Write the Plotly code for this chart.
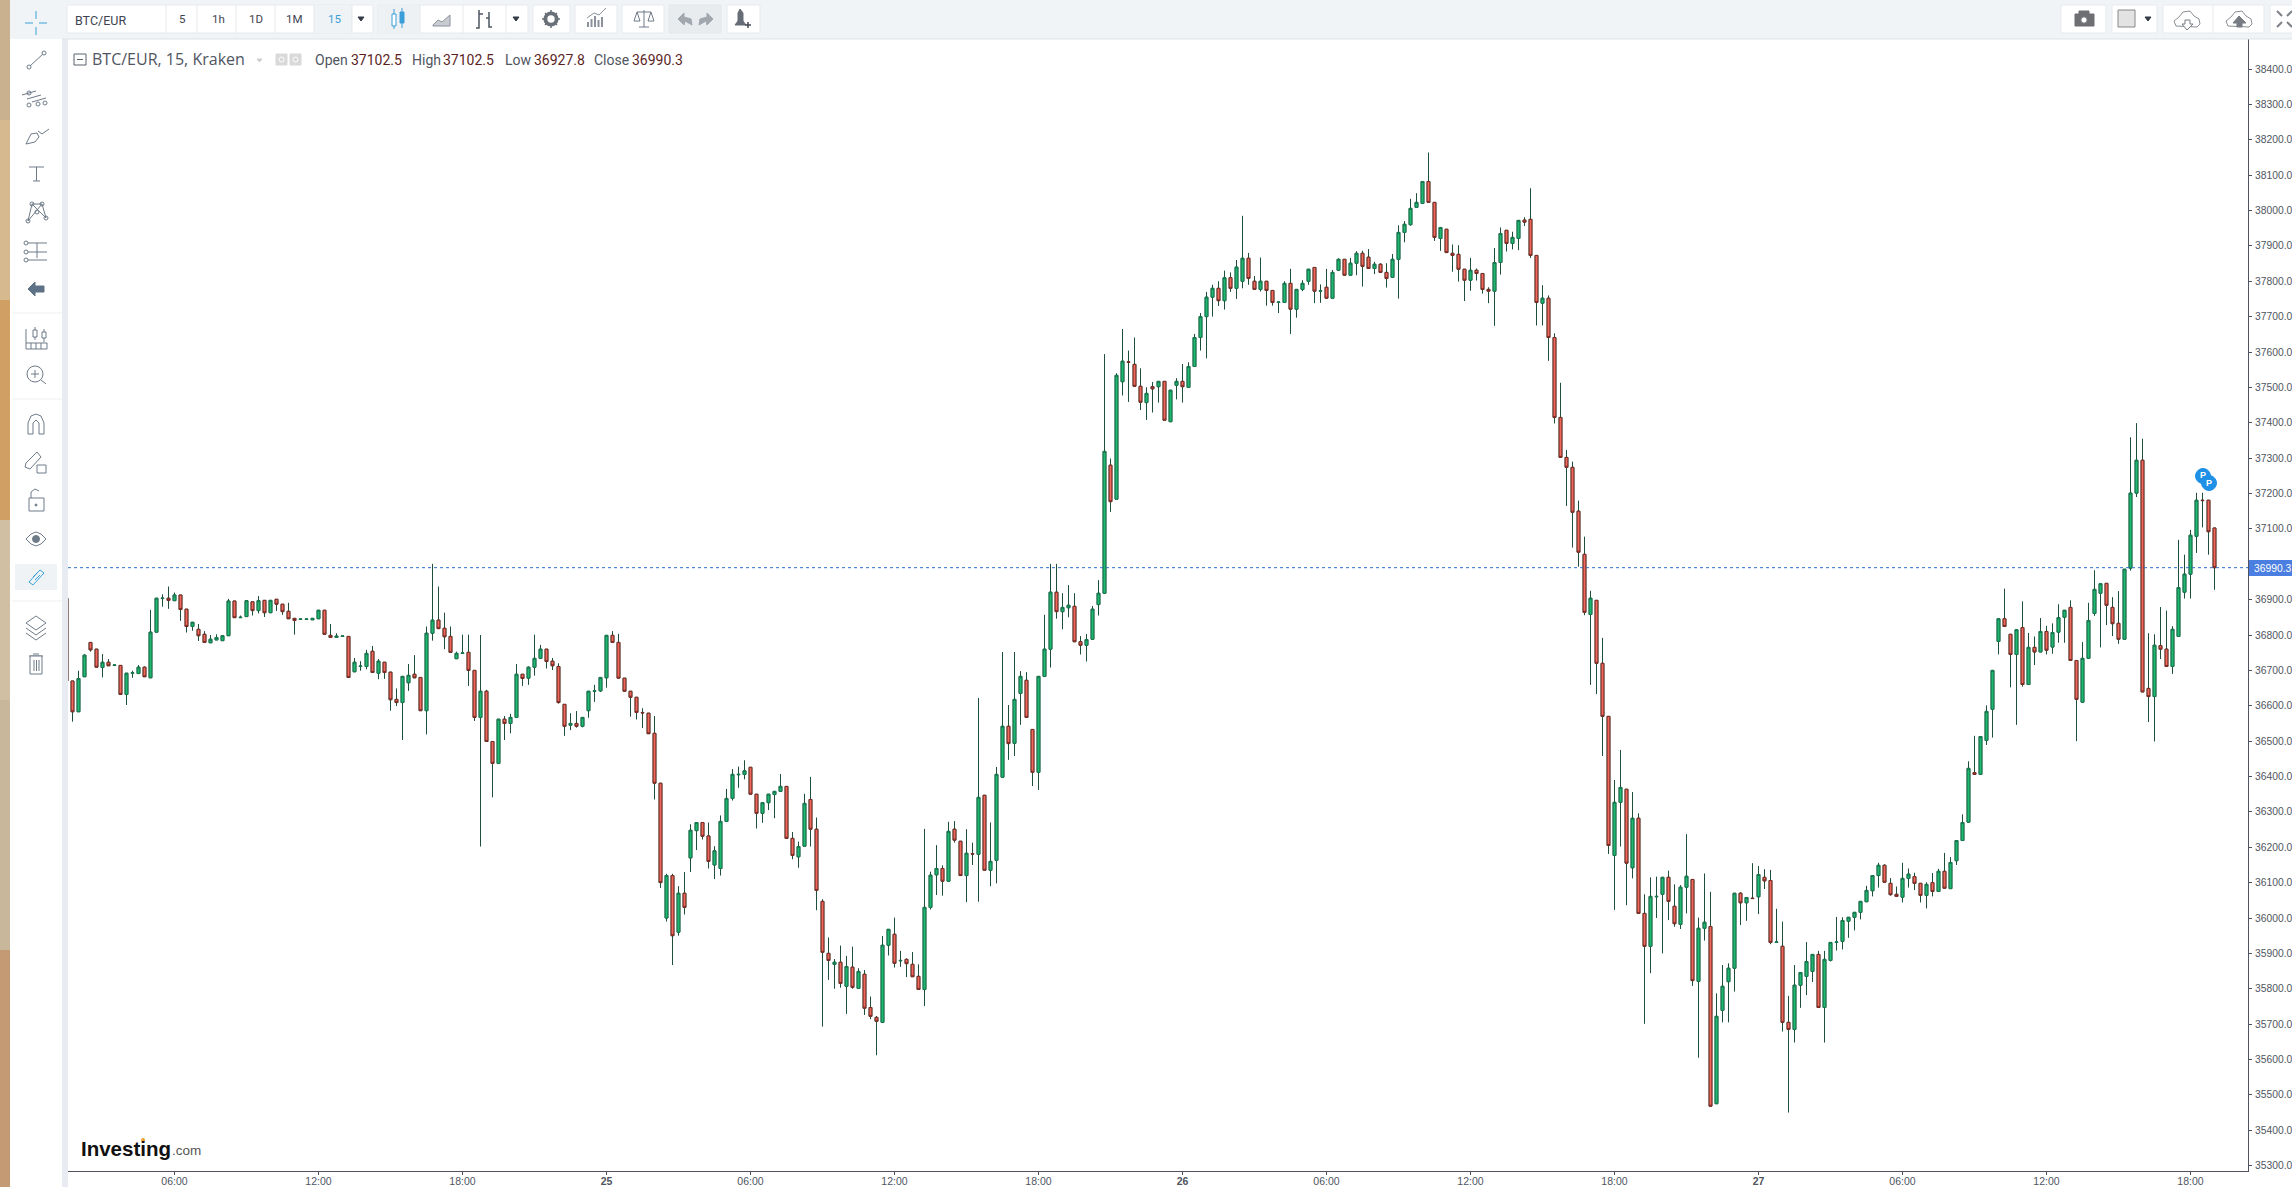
import datetime as dt
import plotly.graph_objects as go

opens = [36904,
36670,36583,36682,36779,36760,36708,36723,36714,36714,36632,
36692,36691,36709,36679,36808,36903,36904,36897,36913,36873,
36824,36816,36802,36778,36786,36784,36798,36896,36849,36852,
36894,36869,36898,36863,36901,36887,36867,36847,36844,36844,
36843,36846,36870,36799,36793,36796,36796,36696,36711,36711,
36754,36692,36723,36695,36618,36609,36665,36689,36680,36586,
36805,36842,36819,36796,36733,36748,36751,36700,36567,36641,
36499,36437,36562,36550,36567,36689,36678,36709,36734,36760,
36726,36711,36604,36545,36550,36542,36586,36641,36642,36679,
36799,36779,36678,36641,36624,36581,36579,36522,36381,36000,
36120,35960,36070,36170,36247,36270,36232,36150,36140,36273,
36338,36405,36406,36426,36350,36296,36326,36349,36358,36372,
36225,36173,36203,36335,36251,36047,35900,35869,35875,35807,
35861,35801,35841,35747,35719,35705,35923,35954,35879,35883,
35869,35835,35798,36030,36122,36140,36104,36251,36217,36120,
36182,36180,36347,36135,36163,36398,36542,36494,36635,36672,
36533,36412,36683,36760,36921,36866,36877,36881,36781,36771,
36788,36886,36918,37280,37184,37516,37572,37565,37503,37457,
37502,37502,37517,37403,37506,37517,37500,37559,37641,37700,
37755,37780,37745,37810,37780,37800,37865,37800,37777,37800,
37774,37740,37740,37794,37721,37777,37800,37839,37772,37783,
37752,37831,37862,37817,37851,37879,37868,37836,37848,37825,
37811,37862,37938,37960,38009,38020,38082,38023,37921,37947,
37879,37876,37834,37803,37831,37822,37777,37772,37853,37944,
37907,37921,37973,37975,37873,37738,37752,37641,37415,37302,
37274,37150,37028,36858,36898,36720,36570,36177,36327,36364,
36142,36282,36013,35920,36060,36067,36115,36033,35982,36087,
36109,35821,35971,35976,35475,35739,35820,35858,36070,36043,
36056,36060,36115,36106,35931,35920,35705,35685,35810,35835,
35849,35897,35747,35880,35931,35934,35991,36002,36016,36046,
36077,36120,36149,36098,36067,36059,36112,36117,36098,36064,
36100,36075,36132,36083,36162,36219,36271,36411,36406,36502,
36590,36782,36846,36802,36745,36821,36660,36765,36752,36810,
36766,36808,36850,36878,36728,36610,36734,36861,36918,36946,
36878,36833,36788,36989,37201,37294,36649,36626,36770,36760,
36711,36796,36921,36972,37079,37181,37181,37102.5]

closes = [36670,
36583,36677,36743,36758,36709,36723,36713,36715,36632,36692,
36693,36709,36682,36808,36904,36904,36898,36913,36872,36824,
36836,36798,36779,36788,36793,36798,36896,36849,36850,36897,
36869,36897,36863,36898,36887,36866,36846,36841,36845,36845,
36847,36870,36802,36793,36797,36797,36680,36723,36712,36748,
36694,36726,36694,36617,36609,36683,36686,36679,36586,36805,
36842,36818,36795,36751,36748,36749,36700,36567,36641,36499,
36437,36562,36550,36567,36689,36677,36709,36734,36760,36725,
36713,36609,36542,36550,36542,36567,36641,36642,36680,36799,
36779,36678,36641,36624,36581,36580,36521,36381,36100,36120,
35950,36070,36030,36248,36270,36231,36160,36190,36273,36338,
36406,36406,36416,36350,36296,36326,36350,36358,36372,36225,
36177,36202,36324,36251,36078,35903,35880,35875,35815,35863,
35804,35849,35745,35722,35708,35923,35968,35872,35880,35871,
35834,35798,36030,36121,36140,36104,36245,36220,36120,36183,
36181,36341,36135,36160,36406,36542,36493,36618,36683,36567,
36412,36683,36760,36921,36866,36878,36884,36781,36771,36787,
36873,36918,37319,37177,37534,37574,37571,37503,37458,37483,
37496,37517,37407,37492,37517,37502,37559,37641,37700,37755,
37780,37745,37810,37780,37840,37865,37808,37777,37800,37774,
37740,37741,37794,37721,37777,37794,37834,37772,37773,37752,
37825,37862,37817,37851,37879,37842,37836,37848,37825,37808,
37862,37938,37961,38006,38023,38082,38023,37924,37952,37881,
37873,37834,37803,37831,37822,37777,37772,37853,37935,37907,
37924,37972,37967,37873,37740,37752,37641,37415,37302,37274,
37147,37034,36864,36904,36720,36570,36205,36327,36369,36155,
36282,36013,35920,36061,36061,36115,36047,35984,36087,36118,
35823,35971,35988,35468,35722,35807,35858,36070,36043,36058,
36055,36123,36105,35931,35932,35705,35685,35810,35846,35877,
35897,35747,35883,35931,35932,35993,36002,36016,36047,36078,
36120,36149,36101,36066,36061,36112,36124,36098,36064,36095,
36075,36132,36084,36157,36219,36270,36423,36406,36513,36584,
36700,36846,36824,36745,36815,36660,36765,36752,36810,36757,
36807,36849,36870,36728,36618,36734,36841,36929,36945,36884,
36832,36788,36986,37201,37294,36639,36626,36771,36760,36711,
36816,36934,36972,37082,37181,37180,37092,36990.3]

highs = [36904,
36670,36699,36745,36779,36760,36746,36732,36715,36714,36692,
36699,36715,36711,36871,36904,36915,36937,36920,36913,36873,
36836,36831,36811,36800,36802,36798,36902,36896,36855,36897,
36894,36910,36898,36898,36901,36887,36891,36847,36845,36845,
36847,36870,36870,36831,36805,36797,36796,36735,36726,36758,
36769,36732,36723,36695,36649,36683,36718,36743,36680,36824,
37001,36937,36863,36824,36753,36801,36801,36700,36800,36645,
36499,36562,36571,36577,36718,36689,36711,36801,36772,36760,
36735,36720,36604,36579,36585,36567,36641,36659,36680,36799,
36811,36803,36678,36641,36624,36593,36579,36571,36381,36125,
36125,36090,36130,36265,36270,36270,36270,36203,36290,36365,
36421,36428,36446,36426,36350,36326,36350,36358,36407,36372,
36243,36216,36351,36399,36284,36053,35945,35884,35922,35893,
35919,35858,35853,35778,35723,35949,35968,36001,35907,35886,
35904,35869,36252,36131,36206,36149,36272,36274,36217,36251,
36213,36622,36347,36270,36427,36752,36602,36752,36698,36695,
36533,36683,36857,37001,37001,36918,36941,36918,36797,36803,
36882,36955,37594,37299,37540,37665,37604,37641,37554,37500,
37515,37517,37517,37492,37526,37566,37571,37651,37710,37770,
37790,37800,37830,37825,37860,37985,37880,37815,37867,37800,
37774,37740,37800,37835,37777,37803,37834,37839,37791,37835,
37832,37865,37862,37866,37885,37886,37891,37855,37851,37851,
37877,37958,37970,38033,38049,38082,38164,38023,37952,37947,
37904,37902,37834,37866,37836,37822,37783,37894,37952,37944,
37940,37972,37981,38063,37873,37789,37760,37653,37513,37323,
37290,37180,37078,36925,36898,36792,36570,36390,36475,36364,
36356,36296,36067,36115,36117,36115,36134,36095,36093,36237,
36109,36001,36126,36074,35787,35867,35872,36070,36073,36058,
36155,36147,36138,36136,36026,35990,35780,35867,35846,35932,
35897,35907,35907,35931,36003,36002,36002,36016,36047,36091,
36120,36156,36152,36113,36089,36156,36140,36128,36098,36101,
36127,36139,36184,36172,36219,36293,36443,36515,36513,36601,
36700,36846,36931,36802,36815,36895,36806,36796,36848,36826,
36833,36887,36870,36898,36728,36780,36891,36983,36945,36946,
36907,36924,36986,37359,37399,37355,36805,36802,36879,36869,
36825,37069,37027,37097,37202,37202,37181,37102.5]

lows = [36670,
36555,36583,36682,36753,36709,36680,36713,36714,36632,36602,
36679,36691,36682,36679,36808,36880,36874,36897,36840,36807,
36812,36783,36779,36778,36786,36784,36798,36849,36849,36852,
36855,36861,36851,36863,36868,36857,36846,36801,36844,36844,
36843,36846,36802,36793,36793,36796,36680,36696,36699,36703,
36694,36675,36676,36586,36599,36503,36642,36679,36586,36519,
36784,36818,36760,36751,36733,36748,36656,36557,36202,36499,
36341,36437,36503,36522,36567,36656,36659,36685,36734,36705,
36701,36606,36515,36531,36538,36539,36566,36611,36639,36651,
36779,36678,36641,36569,36561,36537,36521,36335,36085,35990,
35867,35950,36010,36130,36192,36222,36140,36110,36120,36273,
36332,36368,36392,36350,36253,36269,36305,36282,36358,36225,
36166,36142,36203,36202,36022,35693,35825,35800,35803,35729,
35800,35801,35726,35714,35612,35705,35894,35860,35862,35833,
35834,35798,35751,36024,36065,36063,36104,36213,36120,36045,
36150,36046,36135,36090,36098,36398,36447,36458,36546,36567,
36373,36362,36683,36708,36846,36816,36850,36781,36745,36725,
36788,36855,36918,37148,37184,37477,37459,37503,37436,37408,
37429,37457,37407,37403,37466,37457,37500,37559,37604,37582,
37700,37730,37720,37770,37750,37780,37790,37777,37771,37731,
37731,37710,37740,37651,37697,37772,37790,37738,37739,37752,
37752,37831,37817,37817,37817,37785,37836,37820,37825,37782,
37811,37751,37910,37957,38009,38020,38023,37914,37886,37881,
37827,37799,37744,37773,37802,37765,37738,37674,37819,37884,
37890,37888,37956,37866,37675,37675,37575,37398,37302,37165,
37047,36993,36856,36659,36633,36458,36181,36023,36202,36036,
36112,36013,35701,35844,36000,35900,35994,35975,35969,36013,
35808,35605,35936,35468,35475,35705,35705,35792,35980,35992,
36055,36011,36082,35926,35931,35679,35450,35648,35746,35782,
35819,35747,35648,35877,35908,35911,35944,35965,35996,36046,
36061,36086,36101,36063,36061,36044,36086,36079,36044,36027,
36061,36075,36084,36083,36150,36219,36271,36406,36406,36489,
36510,36745,36824,36652,36546,36654,36660,36715,36752,36745,
36747,36778,36778,36728,36500,36610,36734,36854,36765,36828,
36797,36775,36788,36982,37190,36639,36554,36499,36732,36711,
36690,36796,36903,36903,37032,37104,37027,36927.8]

LAST_PRICE = 36990.3
PRICE_TICKS = list(range(35300, 38401, 100))
PRICE_LABELS = [f"{v:.1f}" for v in PRICE_TICKS]
START = dt.datetime(2021, 2, 24, 1, 30)
STEP = dt.timedelta(minutes=15)
times = [START + STEP * k for k in range(len(opens))]

tick_times = ["2021-02-24 06:00", "2021-02-24 12:00", "2021-02-24 18:00", "2021-02-25 00:00",
              "2021-02-25 06:00", "2021-02-25 12:00", "2021-02-25 18:00", "2021-02-26 00:00",
              "2021-02-26 06:00", "2021-02-26 12:00", "2021-02-26 18:00", "2021-02-27 00:00",
              "2021-02-27 06:00", "2021-02-27 12:00", "2021-02-27 18:00"]
tick_text = ["06:00", "12:00", "18:00", "<b>25</b>", "06:00", "12:00", "18:00", "<b>26</b>",
             "06:00", "12:00", "18:00", "<b>27</b>", "06:00", "12:00", "18:00"]

W_PAGE, H_PAGE = 2292, 1187
L, R, T, B = 68, 2248, 39, 1171
W, H = R - L, B - T
px = lambda x: (x - L) / W
py = lambda y: 1 - (y - T) / H

shapes, notes = [], []
UI = "#6f7b88"


def rect(x0, y0, x1, y1, fill, line=None):
    shapes.append(dict(type="rect", xref="paper", yref="paper", x0=px(x0), x1=px(x1), y0=py(y0), y1=py(y1),
                       fillcolor=fill, line=dict(color=line or fill, width=1 if line else 0), layer="above"))


def poly(points, color=UI, width=1, fill=None, close=False):
    d = "M" + " L".join(f"{px(a):.5f},{py(b):.5f}" for a, b in points) + (" Z" if close else "")
    shapes.append(dict(type="path", xref="paper", yref="paper", path=d, fillcolor=fill or "rgba(0,0,0,0)",
                       line=dict(color=color, width=width), layer="above"))


def circ(cx, cy, r, fill=None, line=UI, width=1):
    shapes.append(dict(type="circle", xref="paper", yref="paper", x0=px(cx - r), x1=px(cx + r),
                       y0=py(cy + r), y1=py(cy - r), fillcolor=fill or "rgba(0,0,0,0)",
                       line=dict(color=line, width=width), layer="above"))


def text(x, y, s, size=12, color="#4a4f5a", anchor="left", family="Liberation Sans"):
    notes.append(dict(xref="paper", yref="paper", x=px(x), y=py(y), text=s, showarrow=False,
                      xanchor=anchor, yanchor="middle", font=dict(size=size, color=color, family=family),
                      borderpad=0, borderwidth=0))


# Wallpaper strip, left rail, top bar
for y0, y1, c in [(0, 120, "#c9b08f"), (120, 300, "#d6b98f"), (300, 520, "#cf9f63"), (520, 700, "#d1bfa3"),
                  (700, 950, "#c9b79c"), (950, 1187, "#c39a74")]:
    rect(0, y0, 10, y1, c)
rect(10, 0, 62, H_PAGE, "#ffffff")
rect(62, 39, 68, H_PAGE, "#e9ebf2")
rect(10, 0, W_PAGE, 39, "#f1f4f7")
poly([(62, 39), (W_PAGE, 39)], "#dde1e6")
for y in (313, 399, 601):
    poly([(12, y), (62, y)], "#eceef1")

# Top bar buttons
for a, b in [(67, 373), (378, 528), (533, 570), (575, 617), (622, 664), (727, 760),
             (2061, 2106), (2112, 2157), (2163, 2264), (2270, 2300)]:
    rect(a, 5, b, 33, "#ffffff", "#e6e9ed")
rect(314, 5, 352, 33, "#f0f3f6")
rect(378, 5, 420, 33, "#eef1f4")
rect(669, 5, 721, 33, "#e9ecef", "#e3e6ea")
for x in (166, 197, 236, 275, 314, 352, 420, 463, 506, 2213):
    poly([(x, 5), (x, 33)], "#e6e9ed")
text(75, 20, "BTC/EUR", 12.5, "#3d4450", family="Roboto")
for x, s, c in [(182, "5", "#3d4450"), (218, "1h", "#3d4450"), (256, "1D", "#3d4450"), (294, "1M", "#3d4450"),
                (334, "15", "#3a9fd8")]:
    text(x, 19, s, 11.5, c, "center", "Roboto")
for x in (361, 516, 2148):
    poly([(x - 3, 17), (x + 3, 17), (x, 21)], "#333a44", fill="#333a44", close=True)
# candle icon
poly([(394, 9), (394, 29)], "#3a9fd8")
rect(392, 14, 396, 26, "#ffffff", "#3a9fd8")
poly([(402, 8), (402, 28)], "#3a9fd8")
rect(400, 12, 404, 23, "#3a9fd8", "#3a9fd8")
# area icon
poly([(433, 25), (438, 20), (442, 22), (450, 15), (450, 26), (433, 26)], "#8a929c", fill="#c9cdd2", close=True)
# bars icon
poly([(479, 10), (479, 28), (476, 28)], "#4c5560", 1.5)
poly([(479, 14), (483, 14)], "#4c5560", 1.5)
poly([(489, 12), (489, 27), (492, 27)], "#4c5560", 1.5)
poly([(486, 18), (489, 18)], "#4c5560", 1.5)
# gear
circ(551, 19, 6, "#ffffff", "#6a7078", 3.2)
for a, b, c, d in [(551, 10, 551, 28), (542, 19, 560, 19), (545, 13, 557, 25), (557, 13, 545, 25)]:
    poly([(a, b), (c, d)], "#6a7078", 1.5)
circ(551, 19, 5, "#ffffff", "#6a7078", 2.6)
# indicator icon
for i, h in enumerate((5, 8, 11, 7, 10)):
    poly([(588 + i * 3.5, 27), (588 + i * 3.5, 27 - h)], "#8b929b", 2)
poly([(587, 18), (594, 13), (599, 15), (606, 8)], "#8b929b")
# scale icon
poly([(644, 10), (644, 27)], UI)
poly([(637, 12), (651, 12)], UI)
poly([(637, 12), (634, 21), (640, 21), (637, 12)], UI)
poly([(651, 12), (648, 21), (654, 21), (651, 12)], UI)
poly([(639, 27), (649, 27)], UI)
# undo / redo
poly([(678, 19), (684, 13), (684, 17), (691, 19), (692, 25), (685, 21), (684, 25)], "#a0a7af", fill="#a0a7af", close=True)
poly([(713, 19), (707, 13), (707, 17), (700, 19), (699, 25), (706, 21), (707, 25)], "#a0a7af", fill="#a0a7af", close=True)
# alert bell
poly([(735, 25), (738, 21), (738, 13), (740, 9), (743, 13), (743, 21), (746, 25)], "#666d76", fill="#666d76", close=True)
poly([(745, 25), (751, 25)], "#444a52", 1.5)
poly([(748, 22), (748, 28)], "#444a52", 1.5)
# camera
rect(2075, 14, 2094, 26, "#6d6f73", "#6d6f73")
rect(2079, 11, 2089, 14, "#6d6f73", "#6d6f73")
circ(2084, 20, 3.2, "#ffffff", "#6d6f73")
# colour swatch
rect(2118, 10, 2135, 27, "#e3e3e3", "#888888")
# clouds
for cx, fill in ((2187, "#ffffff"), (2239, "#ffffff")):
    poly([(cx - 11, 26), (cx - 13, 21), (cx - 8, 17), (cx - 4, 12), (cx + 3, 11), (cx + 7, 16), (cx + 12, 19),
          (cx + 13, 24), (cx + 10, 27), (cx - 11, 26)], "#8a8f95", fill=fill)
poly([(2185, 20), (2190, 20), (2190, 24), (2193, 24), (2187, 30), (2182, 24), (2185, 24)], "#777c82", fill="#ffffff", close=True)
poly([(2237, 27), (2242, 27), (2242, 23), (2246, 23), (2239, 16), (2233, 23), (2237, 23)], "#777c82", fill="#777c82", close=True)
# fullscreen arrows
for a, b, c, d in [(2277, 11, 2282, 16), (2277, 27, 2282, 22), (2292, 11, 2287, 16), (2292, 27, 2287, 22)]:
    poly([(a, b), (c, d)], "#7c8187", 2)

# Left rail icons
C = 36
blue = "#3ba3d8"
for a, b, c, d in [(C - 11, 23, C - 3, 23), (C + 3, 23, C + 11, 23), (C, 11, C, 19), (C, 27, C, 35)]:
    poly([(a, b), (c, d)], blue)
poly([(30, 66), (43, 54)], UI); circ(29, 67, 2); circ(44, 53, 2)
for dx, dy in ((-5, -3), (0, 1), (5, 4)):
    poly([(27 + dx, 104 + dy - 6), (41 + dx, 92 + dy + 2)], UI)
circ(29, 93, 2); circ(29, 105, 2); circ(38, 104, 2); circ(45, 103, 2)
poly([(26, 144), (31, 134), (37, 133), (39, 137), (35, 142), (26, 144)], UI)
poly([(38, 131), (42, 134), (49, 129)], UI)
poly([(29, 167), (44, 167)], UI); poly([(36.5, 167), (36.5, 181)], UI); poly([(33, 181), (40, 181)], UI)
poly([(28, 221), (32, 204), (42, 204), (46, 218), (32, 204)], UI); poly([(28, 221), (42, 204)], UI)
for a, b in ((28, 221), (32, 204), (42, 204), (46, 218), (37, 212)):
    circ(a, b, 2)
for y in (243, 252, 260):
    poly([(28, y), (47, y)], UI); circ(26, y, 2)
poly([(37, 243), (37, 258)], UI)
poly([(28, 289), (35, 282), (35, 286), (44, 286), (44, 292), (35, 292), (35, 296)], "#5d7286", fill="#5d7286", close=True)
poly([(26, 329), (26, 349), (47, 349), (47, 343), (26, 343)], UI)
for x in (31, 36, 41):
    poly([(x, 343), (x, 349)], UI)
poly([(35, 327), (35, 340)], UI); rect(33, 330, 37, 337, "#ffffff", UI)
poly([(44, 329), (44, 342)], UI); rect(42, 332, 46, 338, "#ffffff", UI)
circ(35, 374, 8); poly([(41, 380), (46, 384)], UI); poly([(31, 374), (39, 374)], UI); poly([(35, 370), (35, 378)], UI)
poly([(28, 434), (28, 423), (31, 416), (36, 414), (41, 416), (44, 423), (44, 434)], UI)
poly([(33, 434), (33, 423), (36, 420), (39, 423), (39, 434)], UI); poly([(28, 434), (33, 434)], UI); poly([(39, 434), (44, 434)], UI)
poly([(25, 467), (30, 469), (41, 457), (37, 452), (26, 463), (25, 467)], UI)
rect(37, 465, 46, 473, "#ffffff", UI)
rect(29, 498, 44, 511, "#ffffff", UI)
poly([(31, 498), (31, 492), (35, 489), (39, 491)], UI); circ(36, 505, 1, UI, UI)
poly([(26, 539), (31, 534), (36, 532), (41, 534), (46, 539), (41, 544), (36, 546), (31, 544), (26, 539)], UI)
circ(36, 539, 3.5, UI, UI)
rect(15, 564, 57, 590, "#f0f3f6")
poly([(29, 582), (40, 570), (44, 573), (33, 585), (29, 582)], blue)
poly([(33, 577), (38, 572)], blue); poly([(35, 580), (40, 575)], blue)
poly([(26, 623), (36, 616), (46, 623), (36, 630), (26, 623)], UI)
poly([(26, 628), (36, 635), (46, 628)], UI); poly([(26, 633), (36, 640), (46, 633)], UI)
poly([(29, 656), (43, 656)], UI); rect(30, 656, 42, 674, "#ffffff", UI)
poly([(33, 654), (39, 654)], UI)
for x in (34, 36.5, 39):
    poly([(x, 660), (x, 671)], UI)

# Legend row
rect(74, 54, 86, 65, "#ffffff", "#5b616b")
poly([(77, 59.5), (83, 59.5)], "#5b616b")
text(92, 59, "BTC/EUR, 15, Kraken", 16, "#50555f", family="Open Sans")
poly([(257, 59), (262, 59), (259.5, 62)], "#cccccc", fill="#cccccc", close=True)
rect(276, 54, 287, 65, "#d9d9d9", "#d9d9d9"); circ(281.5, 59.5, 2.5, None, "#ffffff")
rect(290, 54, 301, 65, "#d9d9d9", "#d9d9d9"); circ(295.5, 59.5, 2.5, None, "#ffffff")
VAL = "#5c1f1f"
for x, s, c in [(315, "Open", "#50555f"), (351, "37102.5", VAL), (412, "High", "#50555f"), (443, "37102.5", VAL),
                (505, "Low", "#50555f"), (534, "36927.8", VAL), (594, "Close", "#50555f"), (632, "36990.3", VAL)]:
    text(x, 60, s, 14, c, family="Roboto")

# Watermark
text(81, 1148, "<b>Investing</b>", 20.5, "#111111")
text(172, 1150, ".com", 13.5, "#555555")
circ(143, 1140, 1.5, "#f0a030", "#f0a030")

# Last price line and tag
shapes.append(dict(type="line", xref="paper", yref="y", x0=0, x1=1, y0=LAST_PRICE, y1=LAST_PRICE,
                   line=dict(color="#2f6fc9", width=1, dash="dot"), layer="above"))
rect(2249, 560, 2292, 576, "#4a7ee0")
text(2254, 568, f"{LAST_PRICE:.1f}", 10.3, "#ffffff")

# P bubbles
circ(2203, 476, 7.5, "#1e90e6", "#1e90e6")
circ(2209, 483, 7.5, "#1e90e6", "#1e90e6")
text(2203, 475, "<b>P</b>", 9, "#ffffff", "center")
text(2209, 483, "<b>P</b>", 9, "#ffffff", "center")

WICK = "#1e4f3b"
GREEN, GREEN_EDGE = "#1fb870", "#17784f"
RED, RED_EDGE = "#f0695c", "#7d2a24"
body_hi = [max(a, b) for a, b in zip(opens, closes)]
body_lo = [min(a, b) for a, b in zip(opens, closes)]

fig = go.Figure()
fig.add_trace(go.Candlestick(x=times, open=opens, high=highs, low=lows, close=closes, whiskerwidth=0,
                             increasing=dict(line=dict(color=WICK, width=1), fillcolor=WICK),
                             decreasing=dict(line=dict(color=WICK, width=1), fillcolor=WICK),
                             hoverinfo="skip", showlegend=False))
fig.add_trace(go.Candlestick(x=times, open=opens, high=body_hi, low=body_lo, close=closes, whiskerwidth=0,
                             increasing=dict(line=dict(color=GREEN_EDGE, width=1), fillcolor=GREEN),
                             decreasing=dict(line=dict(color=RED_EDGE, width=1), fillcolor=RED),
                             hoverinfo="skip", showlegend=False))

XFONT = dict(family="Liberation Sans", size=10.5, color="#4f5560")
YFONT = dict(family="Liberation Sans", size=10.3, color="#4f5560")
fig.update_layout(
    width=W_PAGE, height=H_PAGE, autosize=False, showlegend=False, paper_bgcolor="#ffffff", plot_bgcolor="#ffffff",
    margin=dict(l=L, r=W_PAGE - R, t=T, b=H_PAGE - B, pad=0, autoexpand=False), shapes=shapes, annotations=notes,
    boxgap=0.33,
    xaxis=dict(type="date", automargin=False,
               range=[dt.datetime(2021, 2, 24, 1, 33, 45), dt.datetime(2021, 2, 27, 20, 23, 45)],
               rangeslider=dict(visible=False), tickmode="array", tickvals=tick_times, ticktext=tick_text,
               tickfont=XFONT, ticks="outside", ticklen=3, tickcolor="#50535e", showgrid=False, zeroline=False,
               showline=True, linecolor="#50535e", linewidth=1, ticklabeloverflow="allow", ticklabelstandoff=-3,
               fixedrange=True),
    yaxis=dict(side="right", automargin=False, range=[35284.8, 38484.8], tickmode="array", tickvals=PRICE_TICKS,
               ticktext=PRICE_LABELS, tickfont=YFONT, ticks="outside", ticklen=3,
               tickcolor="#50535e", showgrid=False, zeroline=False, showline=True, linecolor="#50535e", linewidth=1,
               ticklabeloverflow="allow", ticklabelstandoff=1, fixedrange=True),
)
CSS = ("html,body{margin:0!important;padding:0;width:2292px;height:1187px;overflow:hidden!important}"
       ".plotly-graph-div,.svg-container{overflow:hidden!important}svg.main-svg{overflow:hidden!important}")
fig.write_html("out.html", config=dict(displayModeBar=False),
               post_script="var s=document.createElement('style');s.textContent='" + CSS + "';document.head.appendChild(s);")
